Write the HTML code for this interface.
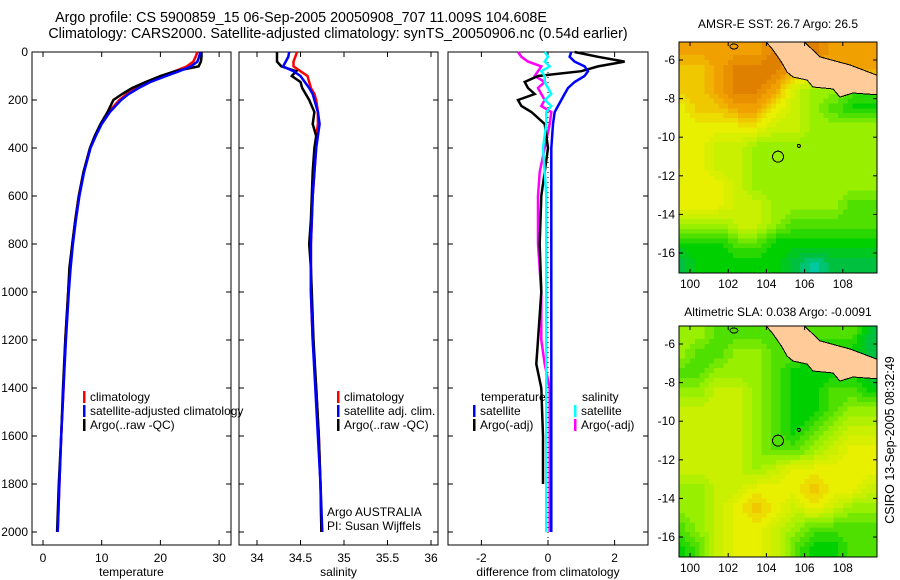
<!DOCTYPE html>
<html><head><meta charset="utf-8"><style>
body{margin:0;background:#fff}
svg{display:block;font-family:"Liberation Sans",sans-serif}
</style></head><body>
<svg id="fig" width="900" height="580" viewBox="0 0 900 580">
<text x="301" y="22" font-size="14.3" text-anchor="middle">Argo profile: CS 5900859_15 06-Sep-2005 20050908_707 11.009S 104.608E</text>
<text x="338" y="38" font-size="14.3" text-anchor="middle">Climatology: CARS2000. Satellite-adjusted climatology: synTS_20050906.nc (0.54d earlier)</text>
<text x="778" y="28" font-size="12" text-anchor="middle">AMSR-E SST: 26.7 Argo: 26.5</text>
<text x="778" y="316" font-size="12" text-anchor="middle">Altimetric SLA: 0.038 Argo: -0.0091</text>
<text transform="translate(894,440) rotate(-90)" font-size="12.5" text-anchor="middle">CSIRO 13-Sep-2005 08:32:49</text>
<g id="plots"></g>
</svg>
<script>
// ---- data ----
const depthT = [0,20,40,60,80,100,125,150,175,200,250,300,350,400,500,600,700,800,900,1000,1200,1400,1600,1800,2000];
const tempClim = [26.3,26.0,25.6,24.5,22.5,20.5,18,16,14.3,13,11.2,9.9,8.9,8.0,6.9,6.1,5.5,5.0,4.6,4.3,3.8,3.5,3.1,2.8,2.5];
const tempSat = [26.8,26.6,26.3,25.2,23.2,21,18.3,16.3,14.6,13.3,11.4,10,9,8.1,7,6.2,5.6,5.1,4.7,4.4,3.9,3.5,3.1,2.8,2.5];
const tempArgo = [27.0,27.0,26.9,26.5,22.5,20,17.5,15.2,13.5,12,11,9.8,8.8,8.0,6.9,6.1,5.5,5.0,4.5,4.3,3.8,3.4,3.1,2.7,2.4];
const salClim = [34.46,34.44,34.42,34.42,34.5,34.58,34.6,34.62,34.66,34.68,34.7,34.7,34.68,34.68,34.66,34.64,34.63,34.62,34.62,34.62,34.64,34.68,34.71,34.73,34.74];
const salSat = [34.37,34.36,34.33,34.3,34.42,34.5,34.55,34.6,34.64,34.66,34.7,34.72,34.7,34.68,34.66,34.64,34.63,34.62,34.62,34.62,34.64,34.67,34.7,34.73,34.75];
const salArgo = [34.23,34.23,34.23,34.28,34.45,34.4,34.5,34.52,34.56,34.6,34.66,34.64,34.68,34.66,34.64,34.63,34.62,34.6,34.62,34.63,34.65,34.68,34.71,34.73,34.74];
const depthD = [0,20,40,60,80,100,125,150,175,200,225,250,300,400,500,600,800,1000,1200,1300,1400,1600,1800,2000];
const dTempSat = [0.7,0.65,0.8,1.1,1.2,1.1,0.8,0.6,0.5,0.4,0.3,0.2,0.15,0.1,0.1,0.1,0.1,0.1,0.1,0.1,0.1,0.1,0.1,0.1];
const dTempArgo = [0.8,1.5,2.3,1.5,1.0,-0.3,-0.7,-0.6,-0.4,-0.9,-0.8,-0.5,-0.1,0.0,-0.1,-0.2,-0.25,-0.2,-0.3,-0.35,-0.2,-0.15,-0.15];
const dSalSat = [-0.1,0,-0.1,0.05,-0.2,-0.1,-0.1,0,0.1,-0.1,0.1,-0.05,-0.05,-0.15,-0.1,-0.05,-0.05,-0.05,-0.05,-0.05,-0.05,-0.05,-0.05,-0.05];
const dSalArgo = [-0.9,-0.8,-0.6,-0.2,-0.3,-0.4,-0.1,-0.3,-0.2,-0.1,-0.2,0.1,0.05,-0.1,-0.25,-0.3,-0.3,-0.2,-0.2,-0.1,0.05,0.05,0.05,0.05];
const depthTicks = [0,200,400,600,800,1000,1200,1400,1600,1800,2000];
const tempTicks = [0,10,20,30];
const salTicks = [34,34.5,35,35.5,36];
const diffTicks = [-2,0,2];
const lonTicks = [100,102,104,106,108];
const latTicks = [-6,-8,-10,-12,-14,-16];
const sstGrid = [
[8,8,8,8,8,9,9,9,8,8,8],[7,7,8,9,9,9,8,8,8,8,8],[7,7,8,9,9,8,5,4,4,3,3],[6,7,7,8,8,6,5,4,3,2,2],
[6,6,6,6,6,5,5,4,4,4,4],[6,6,5,5,4,4,4,4,4,4,4],[6,6,5,5,4,4,4,4,4,4,4],[6,6,6,5,4,4,4,4,4,4,4],
[6,6,6,5,5,4,4,4,4,3,3],[4,4,4,5,5,4,3,3,3,3,3],[2,2,2,3,3,2,2,2,2,2,2],[1,2,2,2,2,2,1,0,1,1,1]];
const slaGrid = [
[4,4,3,3,3,3,3,3,3,3,1],[4,3,3,4,4,3,3,2,2,2,1],[3,3,4,4,4,3,2,2,2,2,1],[4,4,5,5,4,3,2,2,3,3,2],
[5,5,5,5,4,3,2,2,3,4,4],[5,5,5,5,4,3,2,3,4,5,5],[5,5,5,5,4,3,3,4,5,6,6],[5,5,5,5,4,5,6,6,6,6,6],
[4,4,5,5,6,6,6,7,6,6,5],[4,4,5,6,7,6,5,6,5,4,4],[3,4,5,6,6,5,4,3,3,3,3],[2,3,5,6,6,5,3,2,2,3,3]];
const landLon = [103.93,104.35,104.82,105.08,105.39,106.13,106.44,107.49,107.85,108.53,109.9,109.9,108.38,106.81,105.92];
const landLat = [-5.0,-5.48,-6.16,-6.62,-6.88,-7.04,-7.40,-7.50,-7.92,-7.71,-7.81,-6.83,-6.26,-5.84,-5.0];
const floatLon = 104.608, floatLat = -11.009;
const cmap = ["#00c8a0","#00c040","#00d000","#50e000","#98f000","#c8f000","#e8f000","#f0c800","#f0a000","#e08000","#c86000"];

const NS="http://www.w3.org/2000/svg";
const root=document.getElementById('plots');
function mk(tag,attrs,parent){const e=document.createElementNS(NS,tag);for(const k in attrs)e.setAttribute(k,attrs[k]);(parent||root).appendChild(e);return e;}
function txt(x,y,s,anchor,size,parent){const t=mk('text',{x:x,y:y,'font-size':size||12,'text-anchor':anchor||'start'},parent);t.textContent=s;return t;}

const yD = d => 52 + d*0.24;
const PT = {x0:32,x1:231}, PS={x0:239,x1:438}, PD={x0:448,x1:648};
const xT = v => 43 + v*5.87;
const xS = v => 257 + (v-34)*87;
const xDf = v => 548 + v*33.3;

function frame(p,name){
  const r=mk('rect',{x:p.x0,y:52,width:p.x1-p.x0,height:493,fill:'none',stroke:'#000','stroke-width':1});
  
  
}
function depthAxis(p,labels){
  depthTicks.forEach(d=>{
    const y=yD(d);
    mk('line',{x1:p.x0,x2:p.x0+5,y1:y,y2:y,stroke:'#000'});
    mk('line',{x1:p.x1,x2:p.x1-5,y1:y,y2:y,stroke:'#000'});
    if(labels){const t=txt(p.x0-4,y+4,String(d),'end',12);}
  });
}
function xAxis(p,ticks,fx,title){
  ticks.forEach(v=>{
    const x=fx(v);
    mk('line',{x1:x,x2:x,y1:545,y2:540,stroke:'#000'});
    mk('line',{x1:x,x2:x,y1:52,y2:57,stroke:'#000'});
    const t=txt(x,562,String(v),'middle',12);
    
    
  });
  const t=txt((p.x0+p.x1)/2,576,title,'middle',12);
  
  
}
function line(fx,vals,depths,color,name){
  const pts=vals.map((v,i)=>fx(v).toFixed(1)+','+yD(depths[i]).toFixed(1)).join(' ');
  const l=mk('polyline',{points:pts,fill:'none',stroke:color,'stroke-width':2.5,'stroke-linejoin':'miter'});
  
  
}
function legend(x,y,items){
  items.forEach((it,i)=>{
    const yy=y+i*14;
    mk('rect',{x:x,y:yy-10,width:2.5,height:12,fill:it[0]});
    const t=txt(x+7,yy,it[1],'start',12);
    
    
  });
}

frame(PT,'temperature-panel'); depthAxis(PT,true);
xAxis(PT,tempTicks,xT,'temperature');
line(xT,tempClim,depthT,'#f00','temp-climatology-line');
line(xT,tempArgo,depthT,'#000','temp-argo-line');
line(xT,tempSat,depthT,'#00f','temp-satellite-line');
legend(83,401,[['#f00','climatology'],['#00f','satellite-adjusted climatology'],['#000','Argo(..raw -QC)']]);

frame(PS,'salinity-panel'); depthAxis(PS,false);
xAxis(PS,salTicks,xS,'salinity');
line(xS,salClim,depthT,'#f00','sal-climatology-line');
line(xS,salArgo,depthT,'#000','sal-argo-line');
line(xS,salSat,depthT,'#00f','sal-satellite-line');
legend(337,401,[['#f00','climatology'],['#00f','satellite adj. clim.'],['#000','Argo(..raw -QC)']]);
txt(327,516,'Argo AUSTRALIA','start',12);
txt(327,530,'PI: Susan Wijffels','start',12);

frame(PD,'difference-panel'); depthAxis(PD,false);
xAxis(PD,diffTicks,xDf,'difference from climatology');
mk('line',{x1:xDf(0),x2:xDf(0),y1:52,y2:545,stroke:'#000','stroke-dasharray':'1,4'});
line(xDf,dSalArgo,depthD,'#f0f','diff-sal-argo-line');
line(xDf,dTempArgo,depthD.slice(0,dTempArgo.length),'#000','diff-temp-argo-line');
line(xDf,dTempSat,depthD,'#00f','diff-temp-satellite-line');
line(xDf,dSalSat,depthD,'#0ff','diff-sal-satellite-line');
txt(481,401,'temperature','start',12);
legend(473,415,[['#00f','satellite'],['#000','Argo(-adj)']]);
txt(582,401,'salinity','start',12);
legend(574,415,[['#0ff','satellite'],['#f0f','Argo(-adj)']]);

function hex2rgb(h){return [1,3,5].map(i=>parseInt(h.substr(i,2),16));}
const cmapRGB=cmap.map(hex2rgb);
function colorFor(v){
  v=Math.max(0,Math.min(cmap.length-1,v));
  const i=Math.min(cmap.length-2,Math.floor(v)),f=v-i;
  const a=cmapRGB[i],b=cmapRGB[i+1];
  return 'rgb('+a.map((c,k)=>Math.round(c+(b[k]-c)*f)).join(',')+')';
}
function sample(grid,lon,lat){
  let gi=lon-99.5, gj=-5.5-lat;
  const nj=grid.length, ni=grid[0].length;
  gi=Math.max(0,Math.min(ni-1,gi)); gj=Math.max(0,Math.min(nj-1,gj));
  const i0=Math.min(ni-2,Math.floor(gi)), j0=Math.min(nj-2,Math.floor(gj));
  const fi=gi-i0, fj=gj-j0;
  return grid[j0][i0]*(1-fi)*(1-fj)+grid[j0][i0+1]*fi*(1-fj)+grid[j0+1][i0]*(1-fi)*fj+grid[j0+1][i0+1]*fi*fj;
}
function map(top,grid,name){
  const L=679,R=877,B=top+231;
  const fx=lon=>690+(lon-100)*19.1;
  const fyy=lat=>top+18+(-6-lat)*19.3;
  const g=mk('g',{});
  
  
  const cid='clip'+top;
  const cp=mk('clipPath',{id:cid},g); mk('rect',{x:L,y:top,width:R-L,height:B-top},cp);
  const cg=mk('g',{'clip-path':'url(#'+cid+')','shape-rendering':'crispEdges'},g);
  const step=0.25;
  for(let lat=-5; lat>-17.2; lat-=step){
    for(let lon=99; lon<110; lon+=step){
      const v=Math.round(sample(grid,lon+step/2,lat-step/2)*2)/2;
      const c=mk('rect',{x:fx(lon).toFixed(1),y:fyy(lat).toFixed(1),width:(step*19.1+0.6).toFixed(1),height:(step*19.3+0.6).toFixed(1),fill:colorFor(v)},cg);
      
      
    }
  }
  const lp=mk('polygon',{points:landLon.map((lo,i)=>fx(lo)+','+fyy(landLat[i])).join(' '),fill:'#ffcc99',stroke:'#000','stroke-width':1},cg);
  
  
  mk('ellipse',{cx:fx(102.3),cy:fyy(-5.3),rx:4,ry:2.5,fill:'none',stroke:'#000'},cg);
  mk('circle',{cx:fx(105.7),cy:fyy(-10.45),r:1.5,fill:'none',stroke:'#000'},cg);
  const fl=mk('circle',{cx:fx(floatLon),cy:fyy(floatLat),r:5.5,fill:'none',stroke:'#000'},cg);
  
  
  mk('rect',{x:L,y:top,width:R-L,height:B-top,fill:'none',stroke:'#000'},g);
  lonTicks.forEach(v=>{const x=fx(v);mk('line',{x1:x,x2:x,y1:B,y2:B-4,stroke:'#000'},g);mk('line',{x1:x,x2:x,y1:top,y2:top+4,stroke:'#000'},g);
    const t=txt(x,B+15,String(v),'middle',12,g);});
  latTicks.forEach(v=>{const y=fyy(v);mk('line',{x1:L,x2:L+4,y1:y,y2:y,stroke:'#000'},g);mk('line',{x1:R,x2:R-4,y1:y,y2:y,stroke:'#000'},g);
    const t=txt(L-4,y+4,String(v),'end',12,g);});
}
map(42,sstGrid,'sst-map');
map(326,slaGrid,'sla-map');
</script>
</body></html>
